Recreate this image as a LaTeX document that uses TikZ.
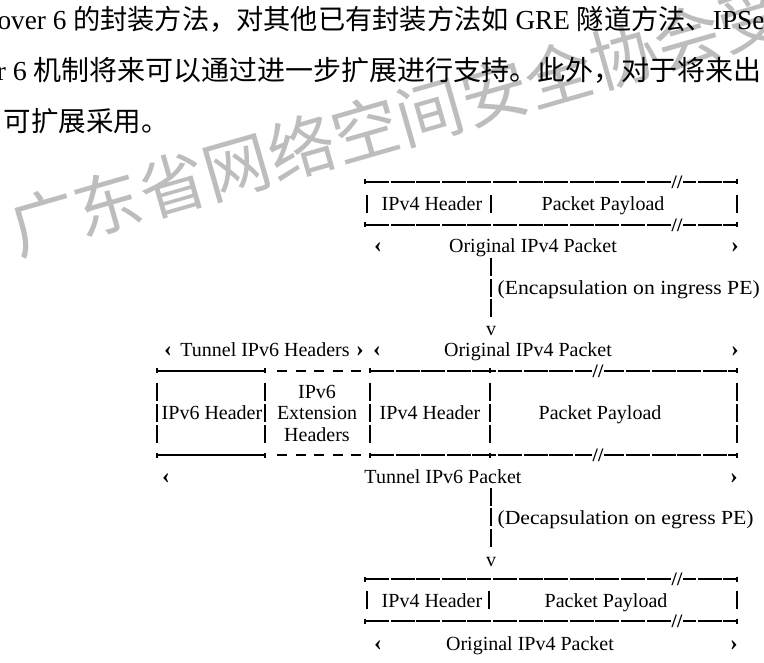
\documentclass[tikz,border=0pt]{standalone}
\usepackage{fontspec}
\setmainfont{Liberation Serif}
\newfontfamily\cjk{Noto Sans CJK SC}
\begin{document}
\begin{tikzpicture}[x=1pt,y=-1pt,line width=1.15pt,
  lbl/.style={font=\fontsize{20}{22}\selectfont,inner sep=0pt,anchor=base},
  lblw/.style={lbl,anchor=base west},
  chev/.style={font=\bfseries\fontsize{23}{24}\selectfont,inner sep=0pt,anchor=base},
  brk/.style={font=\bfseries\fontsize{19}{22}\selectfont,fill=white,inner sep=1.2pt},
  hl/.style={dash pattern=on 24pt off 1.6pt},
  shortdash/.style={dash pattern=on 10pt off 8.5pt},
  body/.style={font=\fontsize{27.5}{30}\selectfont,inner sep=0pt,anchor=base west},
  wmark/.style={font=\cjk\fontsize{67}{67}\selectfont,text=black!26,inner sep=0pt,anchor=base west,rotate=16}]
\useasboundingbox (0,0) rectangle (764,663);
\clip (0,0) rectangle (764,663);
\fill[white] (0,0) rectangle (764,663);

% watermark
\node[wmark] (wm) at (18,256) {广东省网络空间安全协会受控};

% body text
\node[body] (p1) at (-3,30) {\scalebox{0.99}[1]{over 6 {\cjk 的封装方法，对其他已有封装方法如} GRE {\cjk 隧道方法、}IPSe}};
\node[body] (p2) at (-4,81) {\scalebox{1.018}[1]{r 6 {\cjk 机制将来可以通过进一步扩展进行支持。此外，对于将来出}}};
\node[body] (p3) at (3,132) {{\cjk 可扩展采用。}};

% ---------- top block ----------
\coordinate (tA) at (365,182); \coordinate (tB) at (737,182);
\coordinate (tC) at (365,225); \coordinate (tD) at (737,225);
\draw[hl] (tA) -- (tB);
\draw[hl] (tC) -- (tD);
\foreach \x/\y in {365/182,737/182,365/225,737/225}
  \draw (\x,\y-2.5) -- (\x,\y+2.5);
\node[brk] (tbr1) at (677,182) {//};
\node[brk] (tbr2) at (677,225) {//};
\foreach \x in {367,491,737}
  \draw (\x,195) -- (\x,213);
\node[lbl] (t1a) at (432,211) {IPv4 Header};
\node[lbl] (t1b) at (603,211) {Packet Payload};
\node[chev] (t3l) at (378,253) {‹};
\node[lbl] (t3c) at (533,253) {Original IPv4 Packet};
\node[chev] (t3r) at (735,253) {›};

% ---------- arrow 1 ----------
\foreach \y in {267,288,308}
  \draw (491,\y-9.2) -- (491,\y+9.2);
\node[lblw] (e1) at (497,295) {\scalebox{1.085}[1]{(Encapsulation on ingress PE)}};
\node[lbl] (v1) at (491,336) {v};

% ---------- middle block ----------
\node[chev] (m8a) at (168,357) {‹};
\node[lbl] (m8b) at (265,357) {Tunnel IPv6 Headers};
\node[chev] (m8c) at (360,357) {›};
\node[chev] (m8d) at (377,357) {‹};
\node[lbl] (m8e) at (528,357) {Original IPv4 Packet};
\node[chev] (m8f) at (735,357) {›};

\foreach \y in {371,455}{
  \draw (157,\y) -- (265,\y);
  \draw[shortdash] (277,\y) -- (362,\y);
  \draw[hl] (370,\y) -- (737,\y);
  \foreach \x in {157,265,370,490,737}
    \draw (\x,\y-2.5) -- (\x,\y+2.5);
}
\node[brk] (mbr1) at (598,371) {//};
\node[brk] (mbr2) at (598,455) {//};
\foreach \x in {157,265,370,490,737}
  \foreach \y in {392,413,434}
    \draw (\x,\y-9.2) -- (\x,\y+9.2);
\node[lbl] (m11a) at (212,420) {IPv6 Header};
\node[lbl] (m10b) at (317,399) {IPv6};
\node[lbl] (m11b) at (317,420) {Extension};
\node[lbl] (m12b) at (317,441) {Headers};
\node[lbl] (m11c) at (430,420) {IPv4 Header};
\node[lbl] (m11d) at (600,420) {Packet Payload};
\node[chev] (m14a) at (166,483) {‹};
\node[lbl] (m14b) at (443,483) {Tunnel IPv6 Packet};
\node[chev] (m14c) at (734,483) {›};

% ---------- arrow 2 ----------
\foreach \y in {497,517,538}
  \draw (491,\y-9.2) -- (491,\y+9.2);
\node[lblw] (e2) at (497,524) {\scalebox{1.085}[1]{(Decapsulation on egress PE)}};
\node[lbl] (v2) at (491,566) {v};

% ---------- bottom block ----------
\coordinate (bA) at (365,579); \coordinate (bB) at (737,579);
\coordinate (bC) at (365,621); \coordinate (bD) at (737,621);
\draw[hl] (bA) -- (bB);
\draw[hl] (bC) -- (bD);
\foreach \x/\y in {365/579,737/579,365/621,737/621}
  \draw (\x,\y-2.5) -- (\x,\y+2.5);
\node[brk] (bbr1) at (677,579) {//};
\node[brk] (bbr2) at (677,621) {//};
\foreach \x in {367,489,737}
  \draw (\x,591) -- (\x,609);
\node[lbl] (b1a) at (432,607) {IPv4 Header};
\node[lbl] (b1b) at (606,607) {Packet Payload};
\node[chev] (b3l) at (378,650) {‹};
\node[lbl] (b3c) at (530,650) {Original IPv4 Packet};
\node[chev] (b3r) at (734,650) {›};
\end{tikzpicture}
\end{document}
